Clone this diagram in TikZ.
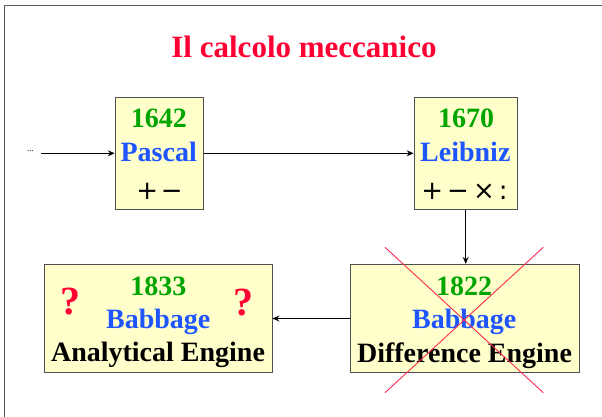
\documentclass[tikz,border=0pt]{standalone}
\usepackage{fontspec}
\setmainfont{Liberation Serif}
\newfontfamily\opsfont{DejaVu Sans}
\usetikzlibrary{arrows.meta}

\definecolor{titlered}{RGB}{255,0,51}
\definecolor{yeargreen}{RGB}{0,165,0}
\definecolor{nameblue}{RGB}{30,85,255}
\definecolor{boxfill}{RGB}{255,255,204}
\definecolor{boxline}{RGB}{80,80,80}
\definecolor{framegray}{RGB}{90,90,90}
\definecolor{crossred}{RGB}{255,40,80}

\tikzset{
  machine/.style={draw=boxline, fill=boxfill, line width=0.9pt, inner sep=0pt},
  year/.style={anchor=base, inner sep=0pt, text=yeargreen, font=\fontsize{28}{30}\selectfont\bfseries},
  inventor/.style={anchor=base, inner sep=0pt, text=nameblue, font=\fontsize{28}{30}\selectfont\bfseries},
  engine/.style={anchor=base, inner sep=0pt, text=black, font=\fontsize{28}{30}\selectfont\bfseries},
  ops/.style={anchor=base, inner sep=0pt, text=black, font=\fontsize{26}{28}\opsfont},
  query/.style={anchor=center, inner sep=0pt, text=titlered, font=\fontsize{40}{42}\selectfont\bfseries},
  flow/.style={draw=black, line width=0.9pt, -{Stealth[length=7pt,width=6pt,inset=2.5pt]}},
}

\begin{document}
\begin{tikzpicture}[x=1pt, y=-1pt]
\useasboundingbox (0,0) rectangle (602,417);

% slide frame (left and top edges)
\draw[framegray, line width=1.5pt] (4.6,417) -- (4.6,5.6) -- (602,5.6);

% title
\node[anchor=base, inner sep=0pt, text=titlered, font=\fontsize{31}{33}\selectfont\bfseries]
  (title) at (304,57.3) {Il calcolo meccanico};

% machines
\node[machine, minimum width=88.7pt, minimum height=112pt] (pascal) at (159.5,153.3) {};
\node[machine, minimum width=103.3pt, minimum height=112pt] (leibniz) at (465.7,153.3) {};
\node[machine, minimum width=228pt, minimum height=108pt] (analytical) at (158,318.7) {};
\node[machine, minimum width=229.3pt, minimum height=108.4pt] (difference) at (464.7,318.5) {};

% Pascal
\node[year] (y1642) at (158.8,127.7) {1642};
\node[inventor] (npascal) at (158.7,161.7) {Pascal};
\node[ops] (opspascal) at (159.5,199.5) {+\kern2.5pt−};

% Leibniz
\node[year] (y1670) at (466,127.7) {1670};
\node[inventor] (nleibniz) at (465.3,161.7) {Leibniz};
\node[ops] (opsleibniz) at (464.5,199.5) {+\kern4pt−\kern4pt×\kern4pt:};

% Babbage, Analytical Engine
\node[year] (y1833) at (158.3,295) {1833};
\node[inventor] (nbab1) at (158.3,328) {Babbage};
\node[engine] (eanalytical) at (158,361.7) {Analytical Engine};
\node[query] (qleft) at (70.5,302) {?};
\node[query] (qright) at (243.5,302.5) {?};

% Babbage, Difference Engine
\node[year] (y1822) at (464,295) {1822};
\node[inventor] (nbab2) at (464.3,328.3) {Babbage};
\node[engine] (edifference) at (464.5,362.3) {Difference Engine};

% crossed out
\coordinate (xa) at (385,247.3);
\coordinate (xb) at (543.3,392.7);
\coordinate (xc) at (543.3,247.3);
\coordinate (xd) at (385,392.7);
\draw[crossred, line width=0.9pt] (xa) -- (xb);
\draw[crossred, line width=0.9pt] (xc) -- (xd);

% connectors
\node[inner sep=0pt, font=\fontsize{9}{10}\selectfont] (dots) at (30.5,151.5) {...};
\coordinate (start) at (41,153.3);
\draw[flow] (start) -- (pascal.west |- start);
\draw[flow] (pascal.east |- start) -- (leibniz.west |- start);
\draw[flow] (leibniz.south) -- (leibniz.south |- difference.north);
\draw[flow] (difference.west) -- (analytical.east |- difference.west);
\end{tikzpicture}
\end{document}
